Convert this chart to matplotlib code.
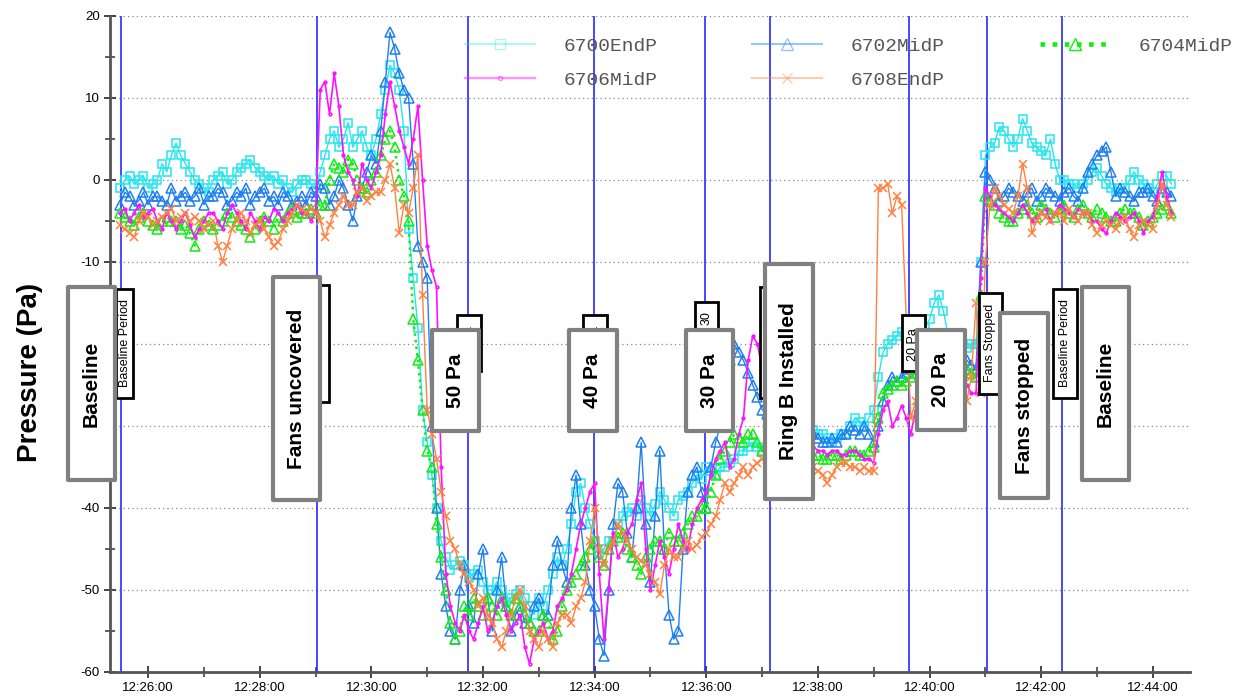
import numpy as np
import pandas as pd
import matplotlib
matplotlib.use("Agg")
import matplotlib.pyplot as plt
import matplotlib.dates as mdates
from matplotlib.lines import Line2D
from matplotlib.patches import Rectangle

plt.rcParams['axes.unicode_minus'] = False
plt.rcParams['font.family'] = ['Liberation Sans', 'DejaVu Sans']

# readings every 5 s starting 12:25:30
start_time = "2000-01-01 12:25:30"
sample_step = "5s"

p6700_end = [
    -1, 0, 0.5, -0.5, 0, 0.5, -1, -0.5, 0, 2, 1, 3, 4.5, 3, 2, 1, 0, -0.5, -1, -1.5,
    0, 0.5, 1, -0.5, 0, 1, 1.5, 2, 2.5, 1.5, 1, 0.5, 0, 0.5, -0.5, 0, -1, -1.5, -0.5, 0,
    0, -0.5, -1, 1, 3, 5, 6, 4, 5, 7, 4, 5, 6, 4, 3, 5, 8, 11, 14, 13,
    11, 6, -6, -12, -18, -28, -32, -36, -40, -44, -46, -47.5, -47, -46.5, -47, -48.5, -48, -47.5, -49, -50,
    -50, -49, -50, -51.5, -51, -50.5, -50, -51, -52, -53, -51, -52, -50, -48, -46, -47, -45, -42, -38, -37,
    -40, -42, -44, -45.5, -45, -44, -44, -42, -41, -40.5, -40, -41, -39, -40, -41, -39.5, -38, -39, -40, -41,
    -39, -38.5, -38, -37, -36, -36.5, -35, -35.5, -36, -35, -35, -34.5, -34, -33, -33, -32.5, -32, -32.5, -33, -32.5,
    -32, -32.5, -32, -31.5, -31, -30.5, -31, -31.5, -31, -30.5, -31, -31, -31.5, -32, -31.5, -31, -31, -30, -29, -29.5,
    -30, -29, -28, -24, -21, -20, -19.5, -19, -18.5, -19, -20, -19.5, -19, -18, -17, -15, -14, -16, -19, -19.5,
    -20, -20.5, -20.5, -20, -20, -10, 3, 4, 4.5, 6.5, 6, 5, 4, 5, 7.5, 6, 4.5, 4, 3.5, 3,
    5, 2, 0, 0, -0.5, -0.5, -1, -0.5, 0, 1, 1.5, 0.5, -0.5, -1, -1.5, -1, -1, 0, 1, 0,
    -0.5, -1, -1.5, -0.5, 0.5, 0.5, -0.5,
]
p6702_mid = [
    -3, -1.5, -2, -3, -2.5, -1.5, -3, -2, -2, -2.5, -3, -1, -2.5, -2, -1.5, -2.5, -2, -1, -3, -2,
    -2, -1, -1.5, -3, -2.5, -1.5, -2, -1, -3, -2, -1.5, -1, -2.5, -2, -3, -1.5, -2, -3, -2.5, -2,
    -3, -1.5, -2, -0.5, -1, -3, -2, 0, -1, -3, -5, -2, -1, 1, 3, 2, 6, 12, 18, 16,
    13, 11, 10, 2, -8, -10, -12, -30, -40, -48, -52, -55, -56, -50, -47, -52, -54, -48, -45, -51,
    -55, -50, -46, -52, -55, -53, -52, -54, -54, -52, -51, -53, -53, -47, -44, -47, -49, -40, -36, -42,
    -47, -50, -52, -56, -58, -50, -42, -37, -38, -43, -46, -40, -32, -42, -49, -41, -33, -45, -53, -56,
    -55, -45, -38, -36, -35, -38, -40, -35, -32, -30, -26, -22, -20, -21, -22, -23.5, -25, -26.5, -28, -28.5,
    -29, -29, -29.5, -30, -30, -29.5, -30, -31, -30.5, -31, -31.5, -32, -32, -31.5, -32, -31, -31, -30, -30.5, -31,
    -30, -31, -32, -30, -27, -25, -24, -24.5, -24, -23.5, -23, -22, -22.5, -23.5, -23, -22.5, -22, -22.5, -23, -22,
    -22.5, -23, -22, -22.5, -23, -10, 1, 0, -1, -2.5, -2, -1, -1.5, -2, -2.5, -1.5, -1, -2.5, -2, -1,
    -1.5, -2, -2.5, -1.5, -1, -2, -2.5, -1, 1, 2, 3, 3.5, 4, 1, -2, -1, -1.5, -2, -2.5, -1.5,
    -1.5, -1, -2, -2.5, -1, -1.5, -2,
]
p6704_mid = [
    -4, -4.5, -5, -5.5, -4.5, -4, -5, -5.5, -6, -5, -4.5, -5, -5, -6, -5.5, -6.5, -8, -6, -5, -5.5,
    -6, -5.5, -5, -4, -4.5, -5, -5.5, -6, -7, -6, -5, -4.5, -5, -6, -4.5, -5, -4, -3.5, -4.5, -4,
    -4, -3.5, -4, -3, -3, 0, 2, 1.5, 1, 2.5, 2, 0, -1, -1.5, 0, 1, 3, 5, 6, 4,
    0, -2, -5, -17, -22, -28, -33, -35, -42, -46, -50, -54, -56, -55, -52, -53, -51, -52, -53, -51,
    -52, -53, -51, -52, -53, -51, -52, -53, -54, -55, -55, -53, -54, -56, -55, -52, -50, -49, -48, -47,
    -46, -45, -44, -46, -47, -45, -44, -43.5, -43, -45, -46, -47, -48, -46, -45, -44, -44, -45, -43, -44,
    -44, -43, -42, -41, -41, -40, -40, -38, -36, -34, -33, -32, -31, -31.5, -32, -31, -31, -32, -33, -32.5,
    -33, -33, -33.5, -34, -33, -33, -33.5, -34, -33, -33.5, -33.5, -34, -34, -33.5, -33.5, -34, -33.5, -33, -33, -33.5,
    -33.5, -33, -32.5, -29, -26, -25.5, -25, -24.5, -25, -24.5, -24, -23.5, -23, -22, -22.5, -23, -23.5, -23, -23, -23.5,
    -24, -23.5, -23, -23.5, -24, -14, -2, -2.5, -3, -4, -4.5, -5, -5, -4, -3.5, -3, -4, -4.5, -3, -3.5,
    -4, -4.5, -3.5, -3, -4, -4.5, -3.5, -3, -4, -4.5, -3.5, -4, -4.5, -5, -5, -4, -3.5, -4, -4, -4.5,
    -5.5, -5, -4.5, -4, -3.5, -3, -4,
]
p6706_mid = [
    -4, -3.5, -5, -4, -3, -4.5, -4, -3.5, -5, -6, -4, -5, -6, -5, -4, -5.5, -7, -6, -5, -4,
    -4, -5, -6, -4, -3, -4, -5, -6, -4, -5, -6, -4.5, -5, -3.5, -4, -5, -4, -3.5, -3, -4,
    -4, -5, -4, 11, 12, 8, 13, 9, 3, 1, 0, -2, 2, 0, -1, 1, 3, 8, 12, 9,
    6, 4, 2, 5, 9, 0, -8, -11, -13, -35, -48, -52, -54, -55, -53, -55, -56, -54, -52, -55,
    -54, -52, -51, -53, -55, -54, -53, -57, -59, -56, -55, -54, -56, -55, -52, -51, -50, -48, -45, -42,
    -40, -38, -37, -48, -56, -50, -43, -46, -45, -43, -42, -39, -37, -45, -50, -47, -44, -46, -48, -45,
    -42, -44, -45, -42, -40, -39, -38, -36, -34, -33, -32, -35, -34, -31, -29, -22, -19, -20, -23, -25,
    -27, -28, -29, -29.5, -30, -30.5, -31, -31.5, -32, -32.5, -33, -33, -33.5, -33, -33, -33.5, -33.5, -33, -33, -33.5,
    -34, -34, -34.5, -31, -28, -27, -30, -29, -27.5, -29, -31, -28, -26, -25, -25, -26, -27, -26, -25, -24.5,
    -24, -24.5, -25, -26, -26, -12, -1, -2, -3, -3.5, -4, -4.5, -5, -4, -3, -4, -5, -4.5, -4, -3.5,
    -5, -4, -3, -3.5, -4, -4.5, -3.5, -4, -4, -5, -5, -6, -6.5, -5, -4, -4.5, -5, -4.5, -4, -5,
    -6.5, -5, -4.5, -2, 1, -2, -4,
]
p6708_end = [
    -5.5, -6, -6.5, -7, -5, -4, -4.5, -5.5, -5, -4.5, -4, -3.5, -5, -4.5, -4, -5, -4.5, -5, -6, -5.5,
    -5, -8, -10, -8, -6, -5, -4, -5, -6.5, -5.5, -5, -6, -7, -8, -7.5, -6, -5, -4, -3, -3.5,
    -4, -3.5, -4, -5, -7, -5.5, -4, -3, -2, -3, -3, -1.5, -1, -2.5, -2, -1.5, -1.5, 0, 2, -1,
    -6.5, -3, -4, -1, 3, -14, -28, -31, -34, -38, -41, -44, -45, -47, -48, -49, -50, -52, -51, -53,
    -54, -56, -57, -55, -53, -51, -50, -52, -55, -56, -57, -55, -56, -57, -54, -53, -53, -54, -52, -51,
    -49, -44, -40, -45, -47, -45, -44, -42, -43, -44, -45, -46, -46.5, -47, -48, -49, -50.5, -47, -45, -46,
    -46, -45, -44, -45, -44.5, -43.5, -43, -42, -41, -39, -37, -38, -37, -36, -35, -36, -35, -34.5, -34, -35,
    -36, -37, -37, -38, -38, -37, -37, -36, -35, -35, -35.5, -36, -37, -36, -35, -34.5, -34.5, -35, -35, -35.5,
    -35, -35.5, -35.5, -1, -1, -0.5, -4, -2, -3, -17, -29, -27, -25, -24, -24, -25, -26, -25.5, -25, -26,
    -26, -28, -27, -24, -15, -26, -10, -3, -1, -2, -3, -3.5, -4, -2, 2, -1, -6.5, -5, -4, -4.5,
    -5, -4, -4, -5, -3.5, -4.5, -5, -4, -4, -5.5, -6.5, -5.5, -5, -5.5, -6, -5, -4.5, -6, -7, -5.5,
    -5, -5.5, -6, -3, -0.5, -3, -4.5,
]

series_names = ["6700EndP", "6702MidP", "6704MidP", "6706MidP", "6708EndP"]
event_times = ["12:25:31", "12:29:01", "12:31:44", "12:33:59", "12:35:59",
               "12:37:08", "12:39:38", "12:41:02", "12:42:22"]

W, H = 1237, 698
fig = plt.figure(figsize=(W / 100, H / 100), dpi=100)
ax = fig.add_axes([110 / W, 1 - 672 / H, 1080 / W, 656 / H])

times = pd.date_range(start_time, periods=len(p6700_end), freq=sample_step)

styles = {
    "6700EndP": dict(color="#22e6ee", marker="s", ms=5.5, ls="-", lw=1.0),
    "6702MidP": dict(color="#1f7ff0", marker="^", ms=7, ls="-", lw=1.0),
    "6704MidP": dict(color="#11ee11", marker="^", ms=7, ls=":", lw=1.8),
    "6706MidP": dict(color="#ff11ff", marker="o", ms=2, ls="-", lw=1.2),
    "6708EndP": dict(color="#ff8040", marker="x", ms=6, ls="-", lw=1.0),
}
values = [p6700_end, p6702_mid, p6704_mid, p6706_mid, p6708_end]

for name, vals in zip(series_names, values):
    st = styles[name]
    ax.plot(times, vals, color=st["color"], marker=st["marker"], ms=st["ms"],
            mfc="none", mec=st["color"], mew=1.1, ls=st["ls"], lw=st["lw"],
            zorder=3)

day = "2000-01-01 "
for t in event_times:
    ax.axvline(pd.Timestamp(day + t), color="#2a2aff", lw=1.2, zorder=2)

ax.set_xlim(pd.Timestamp(day + "12:25:19"), pd.Timestamp(day + "12:44:40"))
ax.set_ylim(-60, 20)
ax.set_yticks(np.arange(-60, 21, 10))
ax.set_yticks(np.arange(-55, 20, 10), minor=True)
ax.xaxis.set_major_locator(mdates.MinuteLocator(byminute=range(0, 60, 2)))
ax.xaxis.set_minor_locator(mdates.MinuteLocator())
ax.xaxis.set_major_formatter(mdates.DateFormatter("%H:%M:%S"))

ax.grid(axis="y", which="major", ls=(0, (1, 2.5)), color="#888888", lw=0.9)
for s in ["top", "right"]:
    ax.spines[s].set_visible(False)
for s in ["left", "bottom"]:
    ax.spines[s].set_color("#555555")
    ax.spines[s].set_linewidth(2)
ax.tick_params(which="major", direction="inout", length=9, width=1.4,
               color="#444444", labelsize=9.5, pad=3)
ax.tick_params(which="minor", direction="inout", length=7, width=1.2,
               color="#444444")

fig.text(30 / W, 1 - 372 / H, "Pressure (Pa)", rotation=90, ha="center",
         va="center", fontsize=20, fontweight="bold")

# legend with faded handles
leg_alpha = {"6700EndP": 0.35, "6702MidP": 0.45, "6704MidP": 1.0,
             "6706MidP": 0.45, "6708EndP": 0.4}
handles = []
for name in series_names:
    st = styles[name]
    handles.append(Line2D([], [], color=st["color"], marker=st["marker"],
                          ms=st["ms"] + 1, mfc="none", ls=st["ls"],
                          lw=st["lw"] + (1.5 if name == "6704MidP" else 0.5),
                          alpha=leg_alpha[name]))
order = [0, 3, 1, 4, 2]
leg = ax.legend([handles[i] for i in order], [series_names[i] for i in order],
                ncol=3, loc="upper left", bbox_to_anchor=(465 / W, 1 - 37 / H),
                bbox_transform=fig.transFigure, frameon=False,
                prop={"family": "Liberation Mono", "size": 14},
                handlelength=3.6, handletextpad=1.45, columnspacing=4.9,
                labelspacing=0.85, borderpad=0, borderaxespad=0)
for txt in leg.get_texts():
    txt.set_color("#555555")


def fx(x):
    return x / W


def fy(y):
    return 1 - y / H


# small boxes (drawn first, partly hidden)
small_boxes = [
    ("Baseline Period", 116, 289, 133, 398, 343),
    ("Fans Uncovered", 306, 285, 329, 402, 343),
    ("50 Pa", 457, 315, 481, 371, 343),
    ("40 Pa", 583, 315, 607, 371, 343),
    ("30", 695, 302, 718, 358, 318),
    ("Ring B Installed", 760, 287, 785, 398, 343),
    ("20 Pa", 902, 315, 925, 371, 345),
    ("Fans Stopped", 979, 293, 1002, 394, 343),
    ("Baseline Period", 1053, 289, 1077, 398, 343),
]
for label, x0, y0, x1, y1, ty in small_boxes:
    fig.add_artist(Rectangle((fx(x0), fy(y1)), (x1 - x0) / W, (y1 - y0) / H,
                             transform=fig.transFigure, facecolor="white",
                             edgecolor="black", lw=2, zorder=5))
    fig.text(fx((x0 + x1) / 2), fy(ty), label, rotation=90, ha="center",
             va="center", fontsize=9, zorder=6)

big_boxes = [
    ("Baseline", 68, 287, 115, 480),
    ("Fans uncovered", 273, 277, 320, 500),
    ("50 Pa", 432, 330, 479, 431),
    ("40 Pa", 569, 330, 617, 431),
    ("30 Pa", 686, 330, 733, 431),
    ("Ring B Installed", 765, 264, 813, 499),
    ("20 Pa", 917, 330, 965, 430),
    ("Fans stopped", 1000, 313, 1048, 498),
    ("Baseline", 1082, 287, 1129, 480),
]
for label, x0, y0, x1, y1 in big_boxes:
    fig.add_artist(Rectangle((fx(x0), fy(y1)), (x1 - x0) / W, (y1 - y0) / H,
                             transform=fig.transFigure, facecolor="white",
                             edgecolor="#808080", lw=3, joinstyle="round",
                             zorder=7))
    fig.text(fx((x0 + x1) / 2), fy((y0 + y1) / 2), label, rotation=90,
             ha="center", va="center", fontsize=15, fontweight="bold", zorder=8)

fig.savefig("out.png", dpi=100)
